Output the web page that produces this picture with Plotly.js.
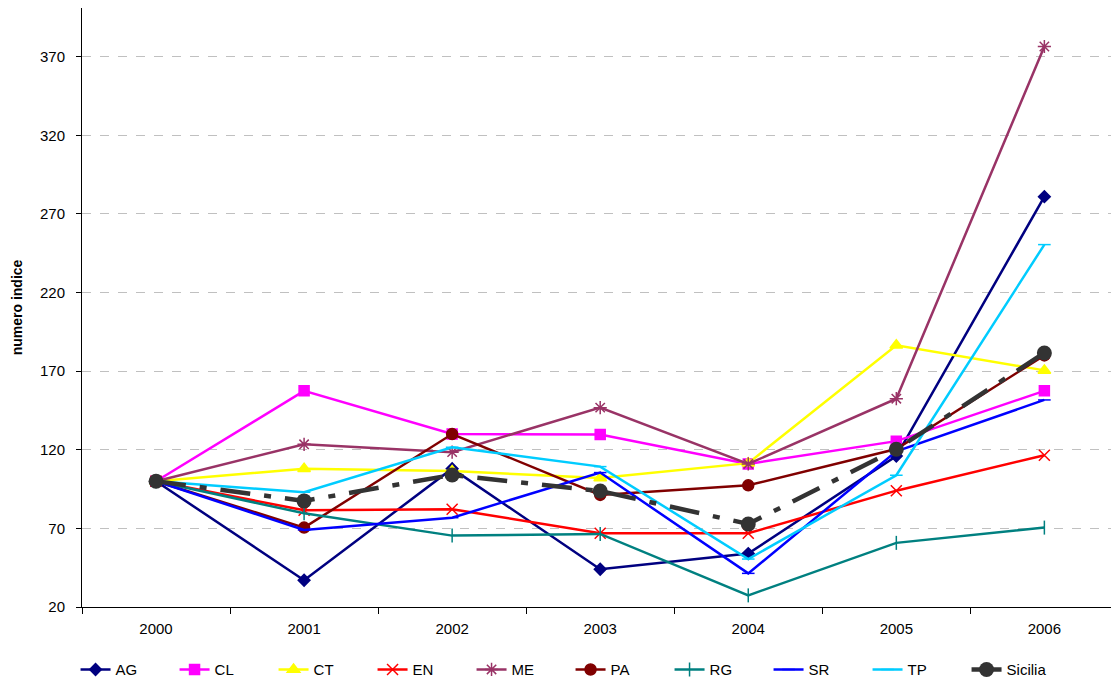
<!DOCTYPE html>
<html>
<head>
<meta charset="utf-8">
<script src="https://cdn.plot.ly/plotly-3.0.1.min.js"></script>
<style>html,body{margin:0;padding:0;background:#fff}#chart{width:1111px;height:682px}</style>
</head>
<body>
<div id="chart"></div>
<script>
const years = ["2000","2001","2002","2003","2004","2005","2006"];
const AG = [100, 37, 108, 44, 54, 116, 281];
const CL = [100, 157.5, 130, 129.7, 111, 125.5, 157.5];
const CT = [100, 108, 106.5, 102, 111.5, 186.5, 170.5];
const EN = [100, 81.5, 82.2, 66.9, 66.9, 94, 116.5];
const ME = [100, 123.5, 118.5, 146.8, 111, 152.5, 376.5];
const PA = [100, 70.5, 130, 91.3, 97.4, 120.5, 180];
const RG = [100, 79.6, 65.4, 66.5, 27.4, 60.8, 70.5];
const SR = [100, 69, 76.8, 105.5, 41.4, 119, 151.7];
const TP = [100, 93, 121.6, 109.3, 50.5, 103.8, 250.5];
const Sicilia = [100, 87.5, 104, 93.8, 72.8, 120.3, 181.6];
const yTicks = [20, 70, 120, 170, 220, 270, 320, 370];

function tr(name, y, color, symbol, msize) {
  return {
    x: years, y: y, name: name, type: 'scatter', mode: 'lines+markers',
    line: {color: color, width: 2.5},
    marker: {symbol: symbol, size: msize, color: color, line: {color: color, width: 1.5}}
  };
}
const data = [
  tr('AG', AG, '#000080', 'diamond', 9),
  tr('CL', CL, '#FF00FF', 'square', 10),
  tr('CT', CT, '#FFFF00', 'triangle-up', 11),
  tr('EN', EN, '#FF0000', 'x-thin-open', 11),
  tr('ME', ME, '#993366', 'asterisk-open', 11),
  tr('PA', PA, '#800000', 'circle', 11),
  tr('RG', RG, '#008080', 'line-ns-open', 10),
  tr('SR', SR, '#0000FF', 'line-ew-open', 9),
  tr('TP', TP, '#00CCFF', 'line-ew-open', 9),
  {x: years, y: Sicilia, name: 'Sicilia', type: 'scatter', mode: 'lines+markers',
   line: {color: '#333333', width: 4.5, dash: '30px,14px,7px,14px'},
   marker: {symbol: 'circle', size: 15, color: '#333333'}}
];
const layout = {
  width: 1111, height: 682,
  margin: {l: 82, r: 0, t: 8, b: 75},
  paper_bgcolor: '#fff', plot_bgcolor: '#fff',
  font: {family: 'Liberation Sans, Arial, sans-serif', size: 15, color: '#000'},
  showlegend: true,
  legend: {orientation: 'h', xref: 'container', yref: 'container', x: 0.068, xanchor: 'left', y: 0.018, yanchor: 'middle',
           font: {size: 15}, entrywidth: 54, itemwidth: 30, traceorder: 'normal'},
  xaxis: {type: 'category', range: [-0.5, 6.45], tickson: 'boundaries', ticks: 'outside', ticklen: 6, tickcolor: '#000',
          showline: true, linecolor: '#000', linewidth: 1, showgrid: false, zeroline: false, fixedrange: true,
          tickfont: {size: 15}, ticklabelstandoff: 8},
  yaxis: {range: [20, 401], tickvals: yTicks, ticktext: yTicks.map(String), ticks: 'outside', ticklen: 5, tickcolor: '#000',
          showline: true, linecolor: '#000', linewidth: 1, showgrid: true, gridcolor: '#c0c0c0', griddash: 'dash', gridwidth: 1,
          zeroline: false, tickfont: {size: 15}, ticklabelstandoff: 8,
          title: {text: '<b>numero indice</b>', font: {size: 14}, standoff: 14}}
};
Plotly.newPlot('chart', data, layout, {displayModeBar: false, staticPlot: true});
</script>
</body>
</html>
